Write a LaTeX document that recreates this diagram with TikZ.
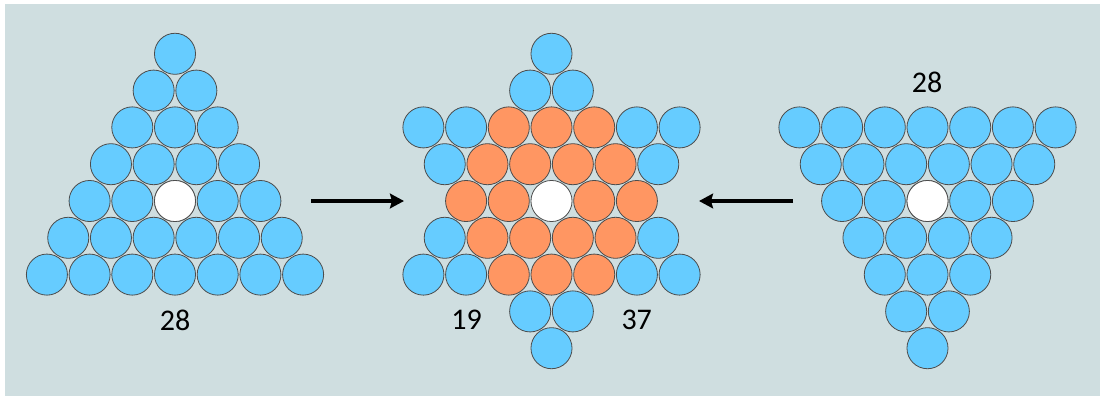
\documentclass[tikz,border=0pt]{standalone}
\usepackage{fontspec}
\setmainfont{Carlito}
\usetikzlibrary{arrows.meta}
\definecolor{bgcol}{RGB}{207,222,224}
\definecolor{ballblue}{RGB}{102,204,255}
\definecolor{ballorange}{RGB}{255,150,98}
\tikzset{
  ball/.style={circle, draw=black!70, line width=0.6pt, fill=ballblue,
    minimum size=30.8pt, inner sep=0pt},
  inner/.style={ball, fill=ballorange},
  hole/.style={ball, fill=white},
  count/.style={font=\fontsize{22.5}{26}\selectfont, inner sep=0pt},
  move/.style={line width=2.3pt, -{Stealth[length=10.5pt, width=11pt, inset=1.5pt]}}
}

\begin{document}
\begin{tikzpicture}[x=0.75pt, y=-0.75pt]
  \useasboundingbox (0,0) rectangle (1100,396);
  \fill [bgcol] (5,4) rectangle (1100,396);
  % left triangle, apex up
  \foreach \r in {1,...,7} {
    \foreach \i in {1,...,\r} {
      \node [ball] (L\r-\i) at ({175+21.35*(2*\i-\r-1)}, {53.8+36.8*(\r-1)}) {};
    }
  }
  \node [hole] (Lhole) at (175,201) {};
  % right triangle, apex down
  \foreach \r in {3,...,9} {
    \pgfmathtruncatemacro\nb{10-\r}
    \foreach \i in {1,...,\nb} {
      \node [ball] (R\r-\i) at ({927.5+21.35*(2*\i-\nb-1)}, {53.8+36.8*(\r-1)}) {};
    }
  }
  \node [hole] (Rhole) at (927.5,201) {};
  % star: blue tips
  \foreach \r/\xs in {1/{0}, 2/{-1,1}, 3/{-6,-4,4,6}, 4/{-5,5},
                      6/{-5,5}, 7/{-6,-4,4,6}, 8/{-1,1}, 9/{0}} {
    \foreach \x in \xs {
      \node [ball] (S\r:\x) at ({551.5+21.35*\x}, {53.8+36.8*(\r-1)}) {};
    }
  }
  % star: orange hexagon
  \foreach \r/\xs in {3/{-2,0,2}, 4/{-3,-1,1,3}, 5/{-4,-2,2,4},
                      6/{-3,-1,1,3}, 7/{-2,0,2}} {
    \foreach \x in \xs {
      \node [inner] (H\r:\x) at ({551.5+21.35*\x}, {53.8+36.8*(\r-1)}) {};
    }
  }
  \node [hole] (Shole) at (551.5,201) {};
  % counts
  \node [count] (nleft) at (175,320) {28};
  \node [count] (nhex) at (466.7,320) {19};
  \node [count] (nstar) at (636.7,320) {37};
  \node [count] (nright) at (927,82.7) {28};
  % arrows
  \coordinate (a1) at (311,201);
  \coordinate (a2) at (404,201);
  \coordinate (b1) at (793,201);
  \coordinate (b2) at (699,201);
  \draw [move] (a1) -- (a2);
  \draw [move] (b1) -- (b2);
\end{tikzpicture}
\end{document}
